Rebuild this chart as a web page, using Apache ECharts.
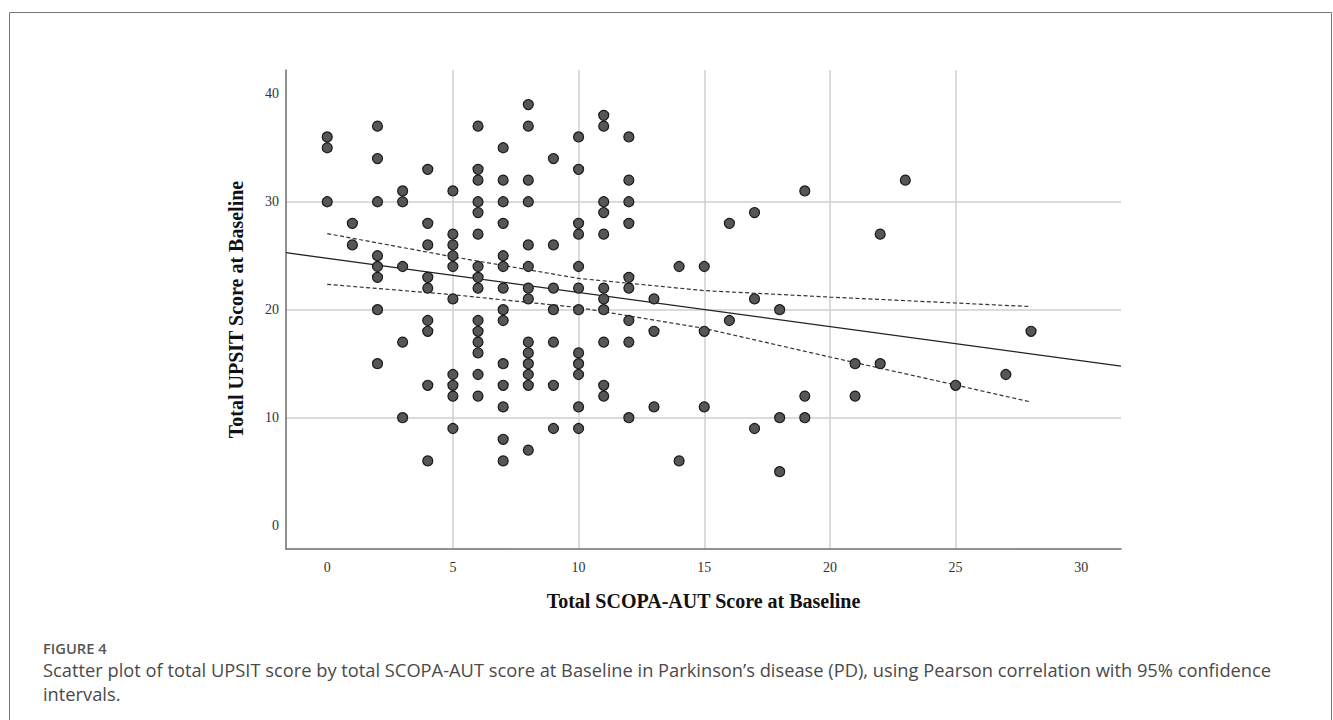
<!DOCTYPE html>
<html><head><meta charset="utf-8">
<script src="https://cdn.jsdelivr.net/npm/echarts@6/dist/echarts.min.js"></script>
<style>html,body{margin:0;padding:0;background:#fff}#c{width:1333px;height:720px}</style>
</head><body><div id="c"></div>
<script>
const xTicks = [0, 5, 10, 15, 20, 25, 30];
const yTicks = [0, 10, 20, 30, 40];
const xTitle = 'Total SCOPA-AUT Score at Baseline';
const yTitle = 'Total UPSIT Score at Baseline';
// [SCOPA-AUT, UPSIT]
const points = [
  [0,36],[0,35],[0,30],
  [1,28],[1,26],
  [2,37],[2,34],[2,30],[2,25],[2,24],[2,23],[2,20],[2,15],
  [3,31],[3,30],[3,24],[3,17],[3,10],
  [4,33],[4,28],[4,26],[4,23],[4,22],[4,19],[4,18],[4,13],[4,6],
  [5,31],[5,27],[5,26],[5,25],[5,24],[5,21],[5,14],[5,13],[5,12],[5,9],
  [6,37],[6,33],[6,32],[6,30],[6,29],[6,27],[6,24],[6,23],[6,22],[6,19],[6,18],[6,17],[6,16],[6,14],[6,12],
  [7,35],[7,32],[7,30],[7,28],[7,25],[7,24],[7,22],[7,20],[7,19],[7,15],[7,13],[7,11],[7,8],[7,6],
  [8,39],[8,37],[8,32],[8,30],[8,26],[8,24],[8,22],[8,21],[8,17],[8,16],[8,15],[8,14],[8,13],[8,7],
  [9,34],[9,26],[9,22],[9,20],[9,17],[9,13],[9,9],
  [10,36],[10,33],[10,28],[10,27],[10,24],[10,22],[10,20],[10,16],[10,15],[10,14],[10,11],[10,9],
  [11,38],[11,37],[11,30],[11,29],[11,27],[11,22],[11,21],[11,20],[11,17],[11,13],[11,12],
  [12,36],[12,32],[12,30],[12,28],[12,23],[12,22],[12,19],[12,17],[12,10],
  [13,21],[13,18],[13,11],
  [14,24],[14,6],
  [15,24],[15,18],[15,11],
  [16,28],[16,19],
  [17,29],[17,21],[17,9],
  [18,20],[18,10],[18,5],
  [19,31],[19,12],[19,10],
  [21,15],[21,12],
  [22,27],[22,15],
  [23,32],
  [25,13],
  [27,14],
  [28,18]
];
const fitLine = [[-1.64, 25.28], [31.58, 14.78]];
const ciUpper = [[0,27.05],[5,24.9],[10,22.9],[15,21.77],[20,21.17],[25,20.62],[28,20.29]];
const ciLower = [[0,22.35],[5,21.39],[10,20.2],[15,18.27],[20,15.62],[25,13.03],[28,11.45]];

const chart = echarts.init(document.getElementById('c'), null, {renderer: 'svg'});
const serif = '"Liberation Serif", "Times New Roman", serif';
const dashStyle = {color: '#333', width: 1.2, type: [4, 2.5]};
chart.setOption({
  animation: false,
  backgroundColor: '#fff',
  grid: {left: 286, right: 212, top: 70, bottom: 171, containLabel: false, outerBoundsMode: 'none'},
  xAxis: {
    type: 'value', min: -1.64, max: 31.58,
    name: xTitle, nameLocation: 'middle', nameGap: 42,
    nameTextStyle: {fontFamily: serif, fontWeight: 'bold', fontSize: 20, color: '#111'},
    axisLine: {show: true, onZero: false, lineStyle: {color: '#6e6e6e', width: 1.5}},
    axisTick: {show: false, customValues: xTicks},
    axisLabel: {customValues: xTicks, fontFamily: serif, fontSize: 14, color: '#333', margin: 11},
    splitLine: {show: true, showMinLine: false, showMaxLine: false, lineStyle: {color: '#cfcfcf', width: 1.5}}
  },
  yAxis: {
    type: 'value', min: -2.16, max: 42.2,
    name: yTitle, nameLocation: 'middle', nameGap: 40,
    nameTextStyle: {fontFamily: serif, fontWeight: 'bold', fontSize: 20, color: '#111'},
    axisLine: {show: true, onZero: false, lineStyle: {color: '#6e6e6e', width: 1.5}},
    axisTick: {show: false, customValues: yTicks},
    axisLabel: {customValues: yTicks, fontFamily: serif, fontSize: 14, color: '#333', margin: 7},
    splitLine: {show: true, showMinLine: false, showMaxLine: false, lineStyle: {color: '#cfcfcf', width: 1.5}}
  },
  series: [
    {type: 'line', data: fitLine, symbol: 'none', lineStyle: {color: '#222', width: 1.3}, z: 2, silent: true},
    {type: 'line', data: ciUpper, symbol: 'none', smooth: false, lineStyle: dashStyle, z: 2, silent: true},
    {type: 'line', data: ciLower, symbol: 'none', smooth: false, lineStyle: dashStyle, z: 2, silent: true},
    {type: 'scatter', data: points, symbol: 'circle', symbolSize: 10,
     itemStyle: {color: '#565656', borderColor: '#1a1a1a', borderWidth: 1.2, opacity: 1}, z: 3}
  ],
  graphic: [
    {type: 'rect', shape: {x: 9.5, y: 12.5, width: 1322, height: 730}, style: {fill: 'none', stroke: '#777', lineWidth: 1}, silent: true, z: -10},
    {type: 'text', left: 43, top: 640, style: {text: 'FIGURE 4', font: '600 14.7px "Open Sans"', fill: '#555'}},
    {type: 'text', left: 43, top: 660, style: {text: 'Scatter plot of total UPSIT score by total SCOPA-AUT score at Baseline in Parkinson\u2019s disease (PD), using Pearson correlation with 95% confidence', font: '18.3px "Open Sans"', fill: '#4a4a4a'}},
    {type: 'text', left: 43, top: 684, style: {text: 'intervals.', font: '18.3px "Open Sans"', fill: '#4a4a4a'}}
  ]
});
</script></body></html>
